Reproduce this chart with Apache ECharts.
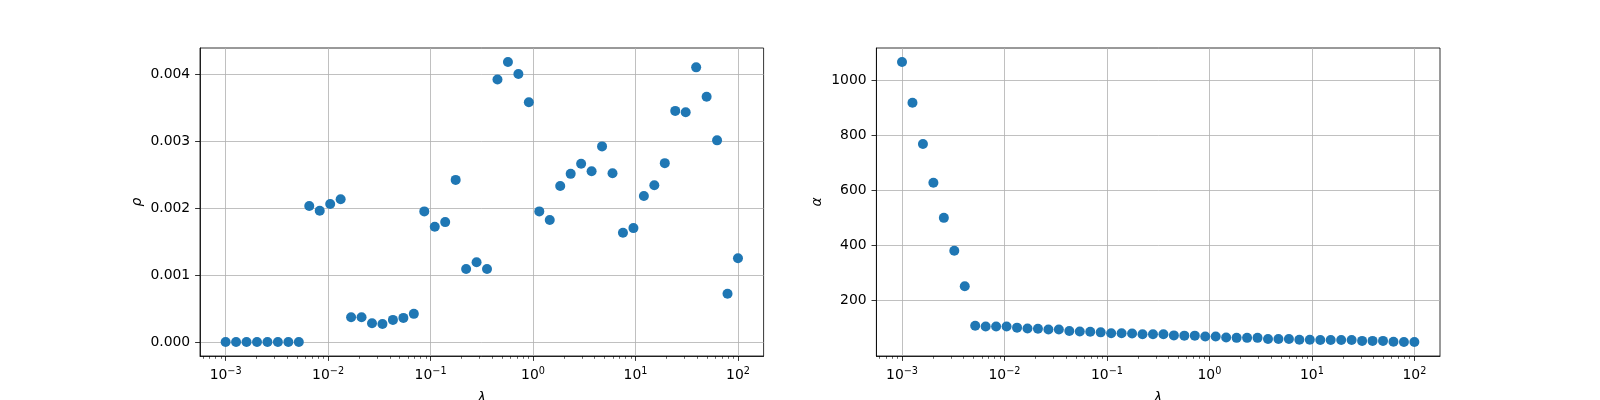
<!DOCTYPE html>
<html><head><meta charset="utf-8">
<script src="https://cdn.jsdelivr.net/npm/echarts@6/dist/echarts.min.js"></script>
<style>html,body{margin:0;padding:0;background:#fff}#c{width:1600px;height:400px}</style>
</head><body><div id="c"></div>
<script>
const lambda = [0.001, 0.001265, 0.0016, 0.002024, 0.00256, 0.003237, 0.004095, 0.005179, 0.006551, 0.008286,
  0.01048, 0.01326, 0.01677, 0.02121, 0.02683, 0.03393, 0.04292, 0.05429, 0.06866, 0.08685,
  0.1099, 0.1389, 0.1758, 0.2223, 0.2812, 0.3556, 0.4498, 0.569, 0.7197, 0.9103,
  1.151, 1.456, 1.842, 2.33, 2.947, 3.728, 4.715, 5.964, 7.543, 9.541,
  12.07, 15.26, 19.31, 24.42, 30.89, 39.07, 49.42, 62.51, 79.06, 100];
const rho = [0, 0, 0, 0, 0, 0, 0, 0, 0.00203, 0.00196,
  0.00206, 0.00213, 0.00037, 0.00037, 0.00028, 0.00027, 0.00033, 0.00036, 0.00042, 0.00195,
  0.00172, 0.00179, 0.00242, 0.00109, 0.00119, 0.00109, 0.00392, 0.00418, 0.004, 0.00358,
  0.00195, 0.00182, 0.00233, 0.00251, 0.00266, 0.00255, 0.00292, 0.00252, 0.00163, 0.0017,
  0.00218, 0.00234, 0.00267, 0.00345, 0.00343, 0.0041, 0.00366, 0.00301, 0.00072, 0.00125];
const alpha = [1065, 917, 768, 627, 500, 381, 252, 109, 106, 106,
  106, 102, 99, 98, 95, 95, 90, 88, 87, 85,
  82, 82, 81, 78, 78, 78, 74, 73, 73, 70,
  70, 66, 65, 65, 65, 61, 61, 61, 58, 58,
  57, 57, 57, 57, 54, 54, 54, 51, 50, 50];
const xMajorTicks = [0.001, 0.01, 0.1, 1, 10, 100];
const rhoTicks = [0, 0.001, 0.002, 0.003, 0.004];
const alphaTicks = [200, 400, 600, 800, 1000];

const FONT = 'DejaVu Sans';
const FS = 13.9;
const xMin = -3.25, xMax = 2.25;
const xMinor = [];
for (let e = -4; e <= 2; e++) for (let m = 2; m <= 9; m++) {
  const v = Math.log10(m) + e;
  if (v >= xMin && v <= xMax) xMinor.push(v);
}
const xMajorLog = xMajorTicks.map(v => Math.round(Math.log10(v)));

function padRange(arr) {
  const lo = Math.min(...arr), hi = Math.max(...arr), m = (hi - lo) * 0.05;
  return [lo - m, hi + m];
}
const rhoR = padRange(rho), alphaR = padRange(alpha);

const grids = [
  {left: 200, top: 48, width: 563.6, height: 308},
  {left: 876.4, top: 48, width: 563.6, height: 308}
].map(g => Object.assign(g, {show: true, borderColor: '#000', borderWidth: 0.8, backgroundColor: 'transparent', containLabel: false, outerBoundsMode: 'none'}));

function xAxes(gi) {
  return [{
    type: 'value', gridIndex: gi, min: xMin, max: xMax, position: 'bottom',
    name: 'λ', nameLocation: 'middle', nameGap: 35,
    nameTextStyle: {fontFamily: FONT, fontSize: FS, fontStyle: 'italic', color: '#000'},
    axisLine: {show: true, onZero: false, lineStyle: {color: '#000', width: 0.8}},
    axisTick: {show: true, length: 4.9, customValues: xMajorLog, lineStyle: {color: '#000', width: 0.8}},
    axisLabel: {show: true, margin: 10, customValues: xMajorLog, color: '#000',
      formatter: v => '{b|10}{s|' + (v < 0 ? '\u2212' + (-v) : v) + '}',
      rich: {b: {fontFamily: FONT, fontSize: FS, color: '#000', lineHeight: 16, verticalAlign: 'bottom'},
             s: {fontFamily: FONT, fontSize: 9.7, color: '#000', lineHeight: 16, verticalAlign: 'top'}}},
    splitLine: {show: true, lineStyle: {color: '#b0b0b0', width: 0.8}}
  }, {
    type: 'value', gridIndex: gi, min: xMin, max: xMax, position: 'bottom', offset: 0,
    axisLine: {show: false, onZero: false}, axisLabel: {show: false}, splitLine: {show: false},
    axisTick: {show: true, length: 2.8, customValues: xMinor, lineStyle: {color: '#000', width: 0.6}}
  }];
}
function yAxis(gi, range, ticks, name, fmt, gap) {
  return {
    type: 'value', gridIndex: gi, min: range[0], max: range[1],
    name: name, nameLocation: 'middle', nameGap: gap, nameRotate: 90,
    nameTextStyle: {fontFamily: FONT, fontSize: FS, fontStyle: 'italic', color: '#000'},
    axisLine: {show: true, onZero: false, lineStyle: {color: '#000', width: 0.8}},
    axisTick: {show: true, length: 4.9, customValues: ticks, lineStyle: {color: '#000', width: 0.8}},
    axisLabel: {show: true, margin: 9.8, customValues: ticks, formatter: fmt, fontFamily: FONT, fontSize: FS, color: '#000'},
    splitLine: {show: true, lineStyle: {color: '#b0b0b0', width: 0.8}}
  };
}

const chart = echarts.init(document.getElementById('c'), null, {renderer: 'canvas'});
chart.setOption({
  animation: false,
  backgroundColor: '#fff',
  grid: grids,
  xAxis: [...xAxes(0), ...xAxes(1)],
  yAxis: [
    yAxis(0, rhoR, rhoTicks, 'ρ', v => v.toFixed(3), 56),
    yAxis(1, alphaR, alphaTicks, 'α', v => String(Math.round(v)), 52)
  ],
  series: [
    {type: 'scatter', xAxisIndex: 0, yAxisIndex: 0, symbolSize: 10,
     itemStyle: {color: '#1f77b4', opacity: 1},
     data: lambda.map((l, i) => [Math.log10(l), rho[i]])},
    {type: 'scatter', xAxisIndex: 2, yAxisIndex: 1, symbolSize: 10,
     itemStyle: {color: '#1f77b4', opacity: 1},
     data: lambda.map((l, i) => [Math.log10(l), alpha[i]])}
  ]
});
</script></body></html>
